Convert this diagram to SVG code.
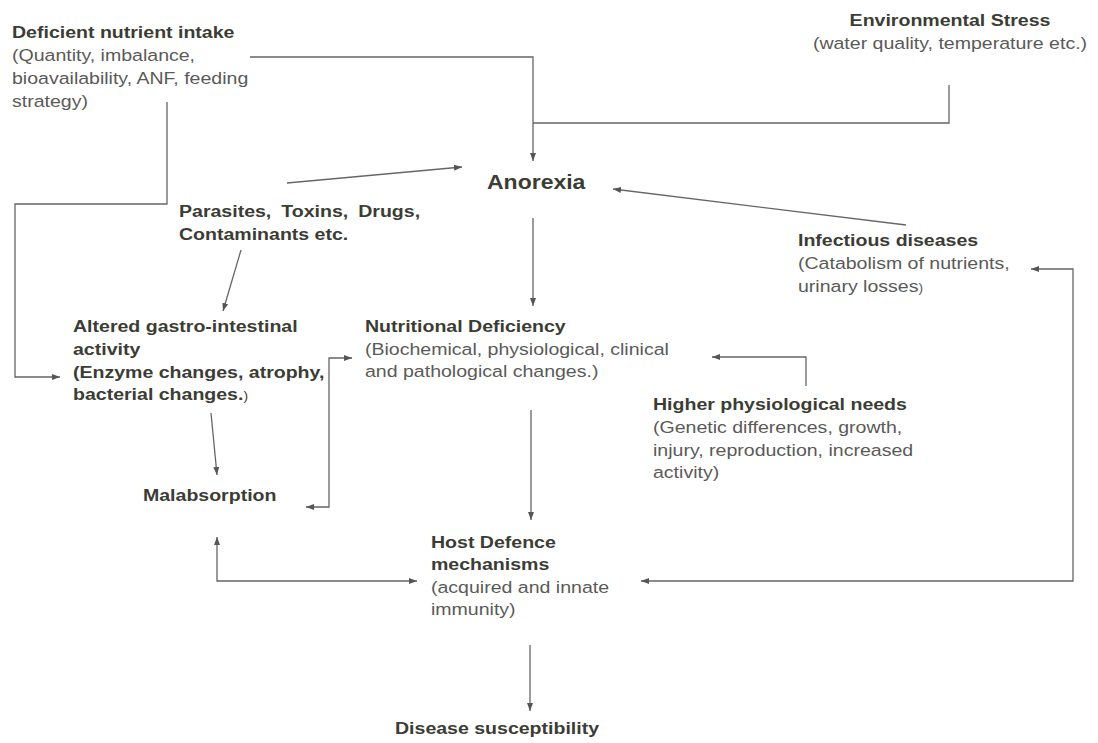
<svg xmlns="http://www.w3.org/2000/svg" width="1098" height="743" viewBox="0 0 1098 743">
<defs>
<style>
text{font-family:"Liberation Sans",Arial,sans-serif;font-size:17px;fill:#5a5a58}
.b{font-weight:bold;fill:#3b3d35}
.big{font-size:20px}
.c path{fill:none;stroke:#666;stroke-width:1.3}
.d{marker-end:url(#ah)}
.dd{marker-start:url(#ah);marker-end:url(#ah)}
</style>
<marker id="ah" markerUnits="userSpaceOnUse" markerWidth="9" markerHeight="7" refX="8" refY="3.5" orient="auto-start-reverse">
<path d="M0,0.5 L8,3.5 L0,6.5 z" fill="#555"/>
</marker>
</defs>
<rect width="1098" height="743" fill="#fff"/>
<g id="connectors" class="c">
<path class="d" d="M250,57 H533 V161"/>
<path d="M949,85 V123 H533"/>
<path class="d" d="M287,183 L462,167"/>
<path class="d" d="M906,225 L613,189"/>
<path class="d" d="M167,102 V204 H15 V377 H60"/>
<path class="d" d="M241,250 L223,311"/>
<path class="d" d="M533,218 V306"/>
<path class="d" d="M211,413 L217,475"/>
<path class="dd" d="M306,507 H329 V358 H352"/>
<path class="d" d="M806,386 V357 H712"/>
<path class="d" d="M531,410 V520"/>
<path class="dd" d="M217,537 V581 H417"/>
<path class="dd" d="M1031,269 H1073 V581 H641"/>
<path class="d" d="M530,645 V711"/>
</g>
<g id="deficient" transform="translate(12,38) scale(1.15,1)">
<text class="b" x="0" y="0">Deficient nutrient intake</text>
<text x="0" y="23">(Quantity, imbalance,</text>
<text x="0" y="46">bioavailability, ANF, feeding</text>
<text x="0" y="69">strategy)</text>
</g>
<g id="environmental" transform="translate(950,26) scale(1.15,1)">
<text class="b" x="0" y="0" text-anchor="middle">Environmental Stress</text>
<text x="0" y="23" text-anchor="middle">(water quality, temperature etc.)</text>
</g>
<g id="anorexia" transform="translate(487,189) scale(1.15,1)">
<text class="b big" x="0" y="0">Anorexia</text>
</g>
<g id="parasites" transform="translate(179,217) scale(1.15,1)">
<text class="b" x="0" y="0" word-spacing="4">Parasites, Toxins, Drugs,</text>
<text class="b" x="0" y="23">Contaminants etc.</text>
</g>
<g id="infectious" transform="translate(798,246) scale(1.15,1)">
<text class="b" x="0" y="0">Infectious diseases</text>
<text x="0" y="23">(Catabolism of nutrients,</text>
<text x="0" y="46">urinary losses<tspan font-size="12">)</tspan></text>
</g>
<g id="altered" transform="translate(73,332) scale(1.15,1)">
<text class="b" x="0" y="0">Altered gastro-intestinal</text>
<text class="b" x="0" y="23">activity</text>
<text class="b" x="0" y="46">(Enzyme changes, atrophy,</text>
<text class="b" x="0" y="68">bacterial changes.<tspan font-weight="normal" font-size="12">)</tspan></text>
</g>
<g id="nutritional" transform="translate(365,332) scale(1.15,1)">
<text class="b" x="0" y="0">Nutritional Deficiency</text>
<text x="0" y="23">(Biochemical, physiological, clinical</text>
<text x="0" y="45">and pathological changes.)</text>
</g>
<g id="higher" transform="translate(653,410) scale(1.15,1)">
<text class="b" x="0" y="0">Higher physiological needs</text>
<text x="0" y="23">(Genetic differences, growth,</text>
<text x="0" y="46">injury, reproduction, increased</text>
<text x="0" y="68">activity)</text>
</g>
<g id="malabsorption" transform="translate(143,501) scale(1.15,1)">
<text class="b" x="0" y="0">Malabsorption</text>
</g>
<g id="host" transform="translate(431,548) scale(1.15,1)">
<text class="b" x="0" y="0">Host Defence</text>
<text class="b" x="0" y="22">mechanisms</text>
<text x="0" y="45">(acquired and innate</text>
<text x="0" y="67">immunity)</text>
</g>
<g id="disease" transform="translate(395,734) scale(1.15,1)">
<text class="b" x="0" y="0">Disease susceptibility</text>
</g>
</svg>
